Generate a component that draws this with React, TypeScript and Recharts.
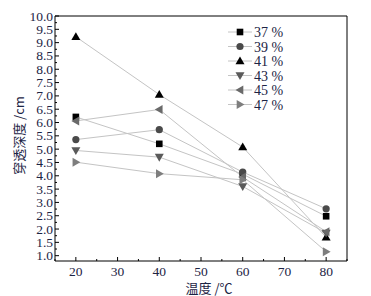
import React from "react";
import { LineChart, Line, XAxis, YAxis, ReferenceLine, Legend } from "recharts";

const temps = [20, 40, 60, 80];
const s37 = [6.21, 5.2, 4.06, 2.48];
const s39 = [5.36, 5.73, 4.14, 2.76];
const s41 = [9.22, 7.05, 5.08, 1.69];
const s43 = [4.95, 4.7, 3.6, 1.85];
const s45 = [6.06, 6.49, 3.95, 1.9];
const s47 = [4.51, 4.08, 3.85, 1.15];

const seriesNames = ["37 %", "39 %", "41 %", "43 %", "45 %", "47 %"];
const seriesKeys = ["s37", "s39", "s41", "s43", "s45", "s47"];
const seriesValues = [s37, s39, s41, s43, s45, s47];
const seriesShapes = ["square", "circle", "up", "down", "left", "right"];
const seriesColors = ["#000000", "#4a4a4a", "#000000", "#5a5a5a", "#6a6a6a", "#7e7e7e"];

const xTicks = [15, 20, 25, 30, 35, 40, 45, 50, 55, 60, 65, 70, 75, 80, 85];
const yTicks: number[] = [];
for (let i = 4; i <= 40; i++) yTicks.push(i / 4);

const data = temps.map((t, i) => {
  const row: any = { t };
  seriesKeys.forEach((k, j) => (row[k] = seriesValues[j][i]));
  return row;
});

const W = 371;
const H = 296;
const PLOT_LEFT = 55;
const PLOT_TOP = 16;
const PLOT_RIGHT = 347;
const X_AXIS_H = 35;
const PLOT_BOTTOM = H - X_AXIS_H;
const LINE_COLOR = "#c4c4c4";
const TEXT_COLOR = "#1c2444";
const SERIF = "Liberation Serif, Times New Roman, serif";
const CJK = "Noto Sans CJK SC, sans-serif";

function Marker({ shape, cx, cy, color }: any) {
  const a = 4.5;
  const b = 3.3;
  switch (shape) {
    case "square":
      return <rect x={cx - 3.3} y={cy - 3.3} width={6.6} height={6.6} fill={color} />;
    case "circle":
      return <circle cx={cx} cy={cy} r={3.6} fill={color} />;
    case "up":
      return <polygon points={`${cx},${cy - a} ${cx - a},${cy + b} ${cx + a},${cy + b}`} fill={color} />;
    case "down":
      return <polygon points={`${cx},${cy + a} ${cx - a},${cy - b} ${cx + a},${cy - b}`} fill={color} />;
    case "left":
      return <polygon points={`${cx - a},${cy} ${cx + b},${cy - a} ${cx + b},${cy + a}`} fill={color} />;
    default:
      return <polygon points={`${cx + a},${cy} ${cx - b},${cy - a} ${cx - b},${cy + a}`} fill={color} />;
  }
}

const makeDot = (shape: string, color: string) => (props: any) => {
  const { cx, cy, index } = props;
  if (cx == null || cy == null) return <g key={index} />;
  return (
    <g key={`${shape}-${index}`}>
      <Marker shape={shape} cx={cx} cy={cy} color={color} />
    </g>
  );
};

const YTick = (props: any) => {
  const { y, payload } = props;
  const v = payload.value;
  const major = Math.abs(v * 2 - Math.round(v * 2)) < 1e-6;
  return (
    <g>
      <line x1={PLOT_LEFT} x2={PLOT_LEFT + (major ? 4 : 2)} y1={y} y2={y} stroke="#000" strokeWidth={1} />
      {major && (
        <text x={PLOT_LEFT - 2} y={y} dy={4.5} textAnchor="end" style={{ fontFamily: SERIF }} fontSize={13.5} fill={TEXT_COLOR}>
          {v.toFixed(1)}
        </text>
      )}
    </g>
  );
};

const XTick = (props: any) => {
  const { x, payload } = props;
  const v = payload.value;
  const major = v % 10 === 0;
  return (
    <g>
      <line x1={x} x2={x} y1={PLOT_BOTTOM} y2={PLOT_BOTTOM - (major ? 4 : 2)} stroke="#000" strokeWidth={1} />
      {major && (
        <text x={x} y={PLOT_BOTTOM + 15} textAnchor="middle" style={{ fontFamily: SERIF }} fontSize={13.5} fill={TEXT_COLOR}>
          {v}
        </text>
      )}
    </g>
  );
};

const LegendContent = () => (
  <svg width={110} height={92} style={{ display: "block" }}>
    {seriesNames.map((n, i) => {
      const cy = 7 + i * 14.5;
      return (
        <g key={n}>
          <line x1={0} x2={24} y1={cy} y2={cy} stroke={LINE_COLOR} strokeWidth={1} />
          <Marker shape={seriesShapes[i]} cx={12} cy={cy} color={seriesColors[i]} />
          <text x={26} y={cy + 5} style={{ fontFamily: SERIF }} fontSize={14} fill={TEXT_COLOR}>
            {n}
          </text>
        </g>
      );
    })}
  </svg>
);

export default function App() {
  return (
    <div style={{ position: "absolute", left: 0, top: 0, width: W, height: H, background: "#fff" }}>
      <LineChart
        width={W}
        height={H}
        data={data}
        margin={{ top: PLOT_TOP, right: W - PLOT_RIGHT, bottom: 0, left: 0 }}
      >
        <XAxis
          dataKey="t"
          type="number"
          domain={[15, 85]}
          ticks={xTicks}
          interval={0}
          height={X_AXIS_H}
          tickLine={false}
          axisLine={{ stroke: "#000", strokeWidth: 1 }}
          tick={<XTick />}
          label={{
            content: (p: any) => {
              const vb = p.viewBox;
              return (
                <text x={209} y={vb.y + 32} textAnchor="middle" style={{ fontFamily: CJK }} fontSize={13} fill={TEXT_COLOR}>
                  温度 /℃
                </text>
              );
            },
          }}
        />
        <YAxis
          type="number"
          domain={[0.8, 10]}
          ticks={yTicks}
          interval={0}
          width={PLOT_LEFT}
          tickLine={false}
          axisLine={{ stroke: "#000", strokeWidth: 1 }}
          tick={<YTick />}
          allowDataOverflow
          label={{
            content: (p: any) => {
              const vb = p.viewBox;
              const cy = vb.y + vb.height / 2 - 3;
              return (
                <text
                  x={18}
                  y={cy}
                  transform={`rotate(-90 18 ${cy})`}
                  textAnchor="middle"
                  dominantBaseline="central"
                  style={{ fontFamily: CJK }}
                  fontSize={13}
                  fill={TEXT_COLOR}
                >
                  穿透深度 /cm
                </text>
              );
            },
          }}
        />
        <ReferenceLine y={10} stroke="#000" strokeWidth={1} />
        <ReferenceLine x={85} stroke="#000" strokeWidth={1} />
        {seriesKeys.map((k, i) => (
          <Line
            key={k}
            dataKey={k}
            name={seriesNames[i]}
            stroke={LINE_COLOR}
            strokeWidth={1}
            type="linear"
            dot={makeDot(seriesShapes[i], seriesColors[i])}
            activeDot={false}
            isAnimationActive={false}
          />
        ))}
        <Legend
          layout="vertical"
          verticalAlign="middle"
          align="center"
          wrapperStyle={{ top: 25, left: 228, width: 110 }}
          content={<LegendContent />}
        />
      </LineChart>
    </div>
  );
}
